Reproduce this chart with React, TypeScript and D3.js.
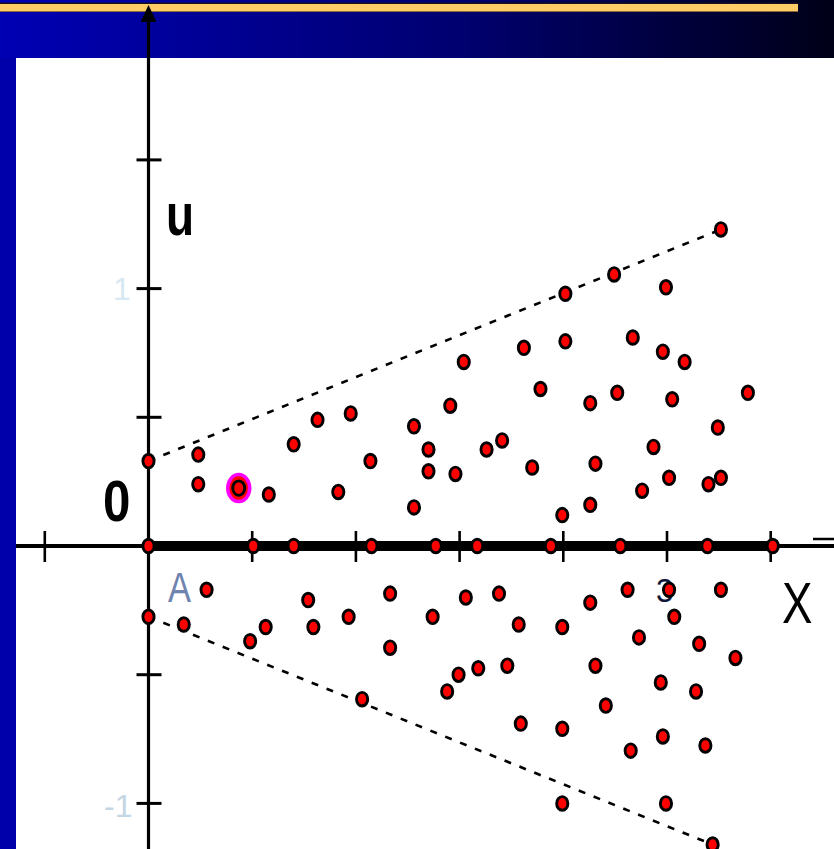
import React from "react";
import * as d3 from "d3";

// Scatter of sample points (x, u) inside a widening band
const upperPoints: [number, number][] = [
  [0.0, 0.66], [0.48, 0.71], [0.48, 0.48], [1.16, 0.4], [1.4, 0.79],
  [1.63, 0.98], [1.83, 0.42], [1.95, 1.03], [2.14, 0.66], [2.56, 0.93],
  [2.56, 0.3], [2.7, 0.75], [2.7, 0.58], [2.91, 1.09], [2.96, 0.56],
  [3.04, 1.43], [3.26, 0.75], [3.41, 0.82], [3.62, 1.54], [3.7, 0.61],
  [3.78, 1.22], [3.99, 0.24], [4.02, 1.96], [4.02, 1.59], [4.26, 0.32],
  [4.26, 1.11], [4.31, 0.64], [4.49, 2.11], [4.52, 1.19], [4.67, 1.62],
  [4.76, 0.43], [4.87, 0.77], [4.96, 1.51], [4.99, 2.01], [5.02, 0.53],
  [5.05, 1.14], [5.17, 1.43], [5.4, 0.48], [5.49, 0.92], [5.52, 0.53],
  [5.52, 2.46], [5.78, 1.19],
];

const axisPointsX: number[] = [0, 1.01, 1.4, 2.15, 2.77, 3.17, 3.88, 4.55, 5.39, 6.02];

const lowerPoints: [number, number][] = [
  [0.0, -0.55], [0.34, -0.61], [0.56, -0.34], [0.98, -0.74], [1.13, -0.63],
  [1.54, -0.42], [1.59, -0.63], [1.93, -0.55], [2.06, -1.19], [2.33, -0.37],
  [2.33, -0.79], [2.74, -0.55], [2.88, -1.13], [2.99, -1.0], [3.06, -0.4],
  [3.18, -0.95], [3.38, -0.37], [3.46, -0.93], [3.57, -0.61], [3.59, -1.38],
  [3.99, -0.63], [3.99, -1.42], [3.99, -2.0], [4.26, -0.44], [4.31, -0.93],
  [4.41, -1.24], [4.62, -0.34], [4.65, -1.59], [4.73, -0.71], [4.94, -1.06],
  [4.96, -1.48], [4.99, -2.0], [5.02, -0.34], [5.07, -0.55], [5.28, -1.13],
  [5.31, -0.76], [5.37, -1.55], [5.44, -2.32], [5.52, -0.34], [5.66, -0.87],
];

const highlightPoint: [number, number] = [0.87, 0.45];

const upperBound: [number, number][] = [[0, 0.66], [5.52, 2.46]];
const lowerBound: [number, number][] = [[0, -0.55], [5.44, -2.32]];

const xTicks: number[] = [-1, 1, 2, 3, 4, 5, 6];
const yTicks: number[] = [-2, -1, 1, 2, 3];

const W = 834;
const H = 849;

export default function App() {
  const x = d3.scaleLinear().domain([0, 6]).range([148.5, 770.7]);
  const y = d3.scaleLinear().domain([0, 2]).range([546, 288.6]);
  const line = d3
    .line<[number, number]>()
    .x((d) => x(d[0]))
    .y((d) => y(d[1]));

  const x0 = x(0);
  const y0 = y(0);

  const dot = (d: [number, number], i: number, key: string) => (
    <ellipse
      key={key + i}
      cx={x(d[0])}
      cy={y(d[1])}
      rx={5.6}
      ry={6.8}
      fill="#ff0000"
      stroke="#000"
      strokeWidth={2.9}
    />
  );

  const font = "'Liberation Sans', Arial, sans-serif";

  return (
    <svg
      width={W}
      height={H}
      style={{ position: "absolute", left: 0, top: 0, display: "block" }}
    >
      <defs>
        <linearGradient id="band" x1="0" x2="1" y1="0" y2="0">
          <stop offset="0" stopColor="#0000b4" />
          <stop offset="0.55" stopColor="#000070" />
          <stop offset="1" stopColor="#000018" />
        </linearGradient>
      </defs>

      {/* frame */}
      <rect x={0} y={0} width={W} height={H} fill="#ffffff" />
      <rect x={0} y={0} width={W} height={58} fill="url(#band)" />
      <rect x={0} y={58} width={16} height={H - 58} fill="#0000aa" />
      <rect x={0} y={2.5} width={798} height={1.5} fill="#1a1020" />
      <rect x={0} y={4} width={798} height={7} fill="#ffcc66" />
      <rect x={0} y={11} width={798} height={1} fill="#8a6a3a" />

      {/* horizontal axis */}
      <line x1={16} x2={W} y1={y0} y2={y0} stroke="#000" strokeWidth={4} />
      <line x1={x0} x2={x(6.05)} y1={y0} y2={y0} stroke="#000" strokeWidth={10} />
      <line x1={813} x2={W} y1={539} y2={539} stroke="#000" strokeWidth={2.5} />
      {xTicks.map((t) => (
        <line
          key={"xt" + t}
          x1={x(t)}
          x2={x(t)}
          y1={y0 - 15}
          y2={y0 + 16}
          stroke="#000"
          strokeWidth={2.6}
        />
      ))}

      {/* vertical axis with arrow */}
      <line x1={x0} x2={x0} y1={18} y2={H} stroke="#000" strokeWidth={3.2} />
      <path d={`M${x0},5 L${x0 - 8},22 L${x0 + 8},22 Z`} fill="#000" />
      {yTicks.map((t) => (
        <line
          key={"yt" + t}
          x1={x0 - 12}
          x2={x0 + 13}
          y1={y(t)}
          y2={y(t)}
          stroke="#000"
          strokeWidth={3}
        />
      ))}

      {/* bounding rays */}
      <path
        d={line(upperBound) || ""}
        fill="none"
        stroke="#000"
        strokeWidth={2.6}
        strokeDasharray="7 9"
      />
      <path
        d={line(lowerBound) || ""}
        fill="none"
        stroke="#000"
        strokeWidth={2.6}
        strokeDasharray="7 9"
      />

      {/* labels */}
      <text
        transform="translate(166,235) scale(0.78,1)"
        fontFamily={font}
        fontWeight="bold"
        fontSize={59}
        fill="#000"
      >
        u
      </text>
      <text
        transform="translate(103,521) scale(0.85,1)"
        fontFamily={font}
        fontWeight="bold"
        fontSize={58}
        fill="#000"
      >
        0
      </text>
      <text
        transform="translate(168,602) scale(0.82,1)"
        fontFamily={font}
        fontSize={42}
        fill="#7084b0"
      >
        A
      </text>
      <text
        transform="translate(656,602) scale(0.95,1)"
        fontFamily={font}
        fontSize={33}
        fill="#10183a"
      >
        3
      </text>
      <text
        transform="translate(782,623) scale(0.8,1)"
        fontFamily={font}
        fontSize={57}
        fill="#000"
      >
        X
      </text>
      <text x={113} y={300} fontFamily={font} fontSize={32} fill="#d6e8f2">
        1
      </text>
      <text x={104} y={817} fontFamily={font} fontSize={32} fill="#c4d6e4">
        -1
      </text>

      {/* points */}
      {upperPoints.map((d, i) => dot(d, i, "u"))}
      {lowerPoints.map((d, i) => dot(d, i, "l"))}
      {axisPointsX.map((v, i) => dot([v, 0], i, "a"))}

      {/* highlighted point */}
      <ellipse
        cx={x(highlightPoint[0])}
        cy={y(highlightPoint[1])}
        rx={11}
        ry={13.5}
        fill="#ff0000"
        stroke="#ff00ff"
        strokeWidth={3.5}
      />
      <ellipse
        cx={x(highlightPoint[0])}
        cy={y(highlightPoint[1])}
        rx={6}
        ry={7.2}
        fill="#ff0000"
        stroke="#000"
        strokeWidth={2.8}
      />
    </svg>
  );
}
